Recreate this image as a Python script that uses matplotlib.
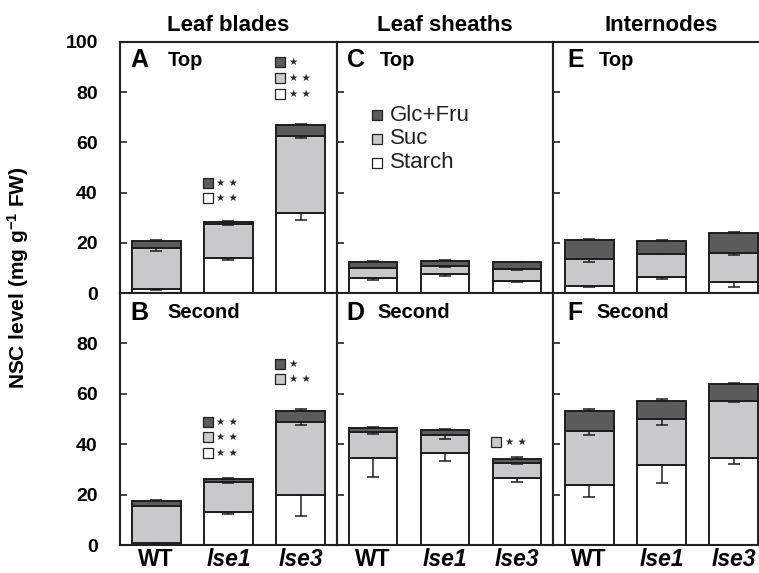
import matplotlib
matplotlib.use('Agg')
import matplotlib.pyplot as plt

plt.rcParams['font.family'] = ['Liberation Sans', 'DejaVu Sans']
plt.rcParams['mathtext.default'] = 'regular'

# lines (genotypes)
lines = ['WT', 'lse1', 'lse3']
columns = ['Leaf blades', 'Leaf sheaths', 'Internodes']

# segment values (mg g-1 FW) per panel: WT, lse1, lse3
starch = {'A': [1.6, 13.9, 31.7], 'B': [0.7, 12.9, 19.7],
          'C': [6.1, 7.6, 4.7], 'D': [34.7, 36.7, 26.5],
          'E': [2.9, 6.5, 4.4], 'F': [24.0, 31.7, 34.7]}
suc = {'A': [16.4, 13.4, 31.0], 'B': [14.9, 12.2, 29.2],
       'C': [4.0, 3.2, 4.9], 'D': [10.0, 7.0, 5.9],
       'E': [10.7, 9.2, 11.7], 'F': [21.3, 18.3, 22.6]}
glc = {'A': [2.9, 1.1, 4.1], 'B': [1.9, 1.2, 4.2],
       'C': [2.4, 2.1, 2.7], 'D': [1.7, 2.0, 1.7],
       'E': [7.7, 5.2, 7.9], 'F': [7.8, 7.1, 6.4]}

# standard errors
starch_err = {'A': [0.5, 0.9, 2.7], 'B': [0.3, 0.4, 8.0],
              'C': [1.1, 0.9, 0.4], 'D': [7.7, 3.3, 1.6],
              'E': [0.4, 0.9, 2.1], 'F': [5.1, 7.1, 2.7]}
suc_err = {'A': [1.3, 0.3, 0.9], 'B': [0.3, 0.3, 1.3],
           'C': [0.3, 0.3, 0.3], 'D': [0.8, 1.7, 0.4],
           'E': [1.3, 0.2, 1.1], 'F': [1.7, 2.4, 0.5]}
glc_err = {'A': [0.3, 0.3, 0.4], 'B': [0.3, 0.2, 0.7],
           'C': [0.4, 0.2, 0.2], 'D': [0.5, 0.4, 0.7],
           'E': [0.2, 0.2, 0.4], 'F': [0.7, 0.9, 0.4]}

# significance marks: panel -> list of (bar index, top y, [(component, stars)])
signif = {
    'A': [(1, 44, [('glc', 2), ('starch', 2)]),
          (2, 92, [('glc', 1), ('suc', 2), ('starch', 2)])],
    'B': [(1, 49, [('glc', 2), ('suc', 2), ('starch', 2)]),
          (2, 72, [('glc', 1), ('suc', 2)])],
    'D': [(2, 41, [('suc', 2)])],
}

c_glc = '#5b5b5b'
c_suc = '#c8c9ca'
c_starch = 'white'
comp_color = {'glc': c_glc, 'suc': c_suc, 'starch': c_starch}

fig = plt.figure(figsize=(7.59, 5.73), dpi=100)
W, H = 759, 573
col_left = [120, 337, 553]
col_width = [217, 216, 217]
row_top = [42, 293]
row_bottom = [293, 545]
panels = [['A', 'C', 'E'], ['B', 'D', 'F']]
positions = {'A': 'Top', 'B': 'Second', 'C': 'Top', 'D': 'Second',
             'E': 'Top', 'F': 'Second'}

x = [0, 1, 2]
bw = 0.68
for r in range(2):
    for c in range(3):
        p = panels[r][c]
        ax = fig.add_axes([col_left[c] / W, (H - row_bottom[r]) / H,
                           col_width[c] / W, (row_bottom[r] - row_top[r]) / H])
        s, su, g = starch[p], suc[p], glc[p]
        b2 = [s[i] + su[i] for i in range(3)]
        kw = dict(width=bw, edgecolor='#1e1e1e', linewidth=1.4, zorder=2)
        ax.bar(x, s, color=c_starch, **kw)
        ax.bar(x, su, bottom=s, color=c_suc, **kw)
        ax.bar(x, g, bottom=b2, color=c_glc, **kw)
        ekw = dict(fmt='none', ecolor='#1e1e1e', elinewidth=1.1, capsize=4,
                   capthick=1.1, zorder=3)
        ax.errorbar(x, s, yerr=[starch_err[p], [0, 0, 0]], **ekw)
        ax.errorbar(x, b2, yerr=[suc_err[p], [0, 0, 0]], **ekw)
        tot = [b2[i] + g[i] for i in range(3)]
        ax.errorbar(x, tot, yerr=[[0, 0, 0], glc_err[p]], **ekw)

        ax.set_xlim(-0.5, 2.5)
        ax.set_ylim(0, 100)
        for sp in ax.spines.values():
            sp.set_linewidth(1.5)
            sp.set_color('#222222')
        ax.tick_params(axis='y', direction='in', length=5, width=1.2,
                       color='#222222', pad=16)
        ax.tick_params(axis='x', length=0)
        if r == 0:
            ax.set_yticks([0, 20, 40, 60, 80, 100])
            ax.set_xticks([])
        else:
            ax.set_yticks([0, 20, 40, 60, 80])
            ax.set_xticks(x)
            ax.set_xticklabels(lines, fontsize=16.5, fontweight='bold')
            for t in ax.get_xticklabels()[1:]:
                t.set_fontstyle('italic')
            ax.tick_params(axis='x', pad=2)
        if c == 0:
            for t in ax.get_yticklabels():
                t.set_fontweight('bold')
                t.set_fontsize(14)
        else:
            ax.set_yticklabels([])

        lx = 0.05 if c == 0 else (0.045 if c == 1 else 0.068)
        ly = 0.928 if r == 0 else 0.921
        ax.text(lx, ly, p, transform=ax.transAxes, fontsize=18,
                fontweight='bold', va='center', ha='left')
        wx = {'A': 0.22, 'B': 0.22, 'C': 0.2, 'D': 0.185, 'E': 0.21, 'F': 0.2}[p]
        ax.text(wx, ly, positions[p], transform=ax.transAxes, fontsize=14.5,
                fontweight='bold', va='center', ha='left')

        for bi, ytop, marks in signif.get(p, []):
            for k, (comp, n) in enumerate(marks):
                yy = ytop - 6.3 * k
                ax.plot(bi - 0.29, yy, marker='s', markersize=7.5,
                        markerfacecolor=comp_color[comp],
                        markeredgecolor='#222222', markeredgewidth=0.9,
                        zorder=4, clip_on=False)
                ax.text(bi - 0.17, yy, ' '.join(['\u2605'] * n), fontsize=7.5,
                        family='DejaVu Sans', va='center', ha='left',
                        color='#2a2a2a')

        if p == 'C':
            leg = [('Glc+Fru', c_glc, 0.709), ('Suc', c_suc, 0.614),
                   ('Starch', c_starch, 0.518)]
            for lab, col, yy in leg:
                ax.plot(0.185, yy, marker='s', markersize=7,
                        markerfacecolor=col, markeredgecolor='#222222',
                        markeredgewidth=0.9, transform=ax.transAxes)
                ax.text(0.245, yy, lab, transform=ax.transAxes, fontsize=16,
                        va='center', ha='left', color='#222222')

        if r == 0:
            ax.set_title(columns[c], fontsize=16, fontweight='bold', pad=8)

fig.text(18 / W, (H - 278) / H, 'NSC level (mg g$^{-1}$ FW)', rotation=90,
         fontsize=15, fontweight='bold', ha='center', va='center')

fig.savefig('out.png', dpi=100)
